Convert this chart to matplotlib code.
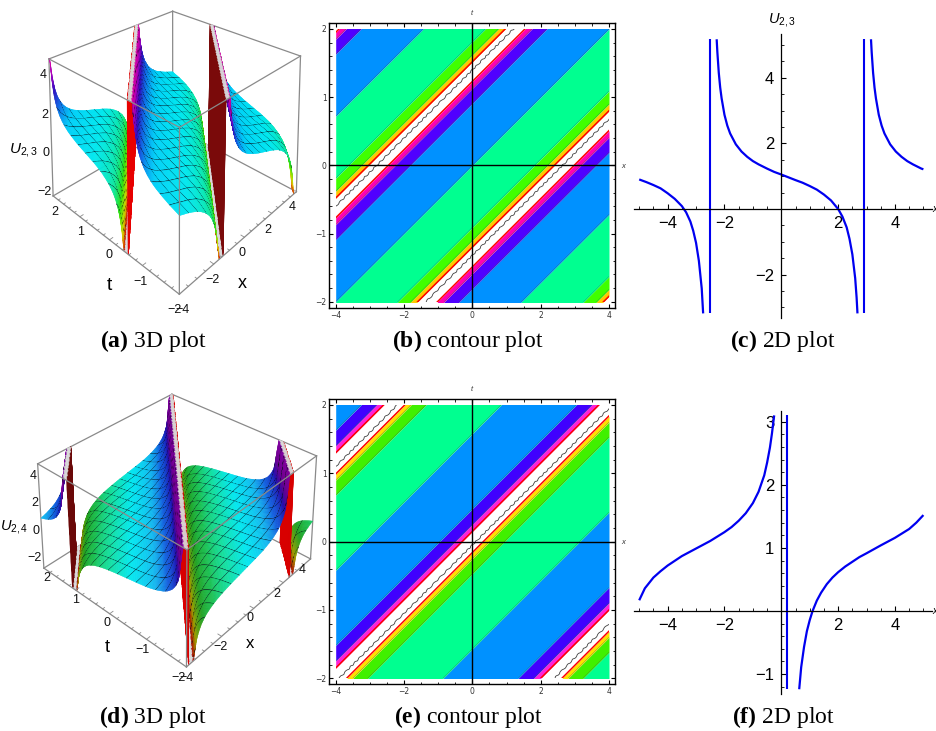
import numpy as np
import matplotlib
matplotlib.use("Agg")
import matplotlib.pyplot as plt
from matplotlib.colors import LinearSegmentedColormap
from matplotlib.patches import Rectangle

W, H = 936, 731
SANS = 'Liberation Sans'

plt.rcParams['mathtext.fontset'] = 'custom'
plt.rcParams['mathtext.rm'] = 'Liberation Sans'
plt.rcParams['mathtext.it'] = 'Liberation Sans:italic'
plt.rcParams['mathtext.bf'] = 'Liberation Serif:bold'

# 2D curves (c) and (f), one list per branch
c_x1 = [-5, -4.75, -4.5, -4.25, -4, -3.75, -3.5, -3.35, -3.2, -3.1, -3, -2.9, -2.8, -2.75]
c_y1 = [0.9, 0.82, 0.73, 0.63, 0.48, 0.31, 0.09, -0.1, -0.38, -0.66, -1.03, -1.58, -2.42, -3.18]
c_x2 = [-2.274, -2.25, -2.2, -2.15, -2.1, -2, -1.9, -1.8, -1.6, -1.4, -1.2, -1, -0.8, -0.5, -0.25, 0,
        0.25, 0.5, 0.75, 1, 1.25, 1.5, 1.75, 2, 2.15, 2.3, 2.4, 2.5, 2.6, 2.65, 2.68]
c_y2 = [5.17, 4.78, 4.15, 3.7, 3.37, 2.87, 2.54, 2.3, 1.97, 1.75, 1.59, 1.46, 1.36, 1.23, 1.13, 1.05,
        0.965, 0.88, 0.8, 0.7, 0.59, 0.44, 0.26, 0, -0.23, -0.56, -0.91, -1.38, -2.11, -2.7, -3.18]
c_x3 = [3.156, 3.18, 3.23, 3.28, 3.33, 3.43, 3.53, 3.63, 3.83, 4.03, 4.23, 4.43, 4.63, 4.93, 5]
c_y3 = [5.17, 4.78, 4.15, 3.7, 3.37, 2.87, 2.54, 2.3, 1.97, 1.75, 1.59, 1.46, 1.36, 1.23, 1.21]
c_poles = [-2.51, 2.92]

f_x1 = [-5, -4.8, -4.5, -4.25, -4, -3.5, -3, -2.5, -2, -1.75, -1.5, -1.25, -1, -0.8, -0.6, -0.5, -0.4, -0.33, -0.27, -0.25]
f_y1 = [0.17, 0.36, 0.53, 0.63, 0.72, 0.87, 0.99, 1.11, 1.25, 1.33, 1.43, 1.55, 1.71, 1.89, 2.15, 2.35, 2.59, 2.81, 3.03, 3.1]
f_x2 = [0.63, 0.7, 0.8, 0.9, 1, 1.1, 1.25, 1.4, 1.6, 1.8, 2, 2.25, 2.5, 2.75, 3, 3.5, 4, 4.25, 4.5, 4.75, 5]
f_y2 = [-1.24, -0.89, -0.57, -0.32, -0.145, 0, 0.165, 0.29, 0.425, 0.53, 0.615, 0.705, 0.78, 0.855, 0.915,
        1.04, 1.16, 1.23, 1.3, 1.4, 1.52]
f_poles = [0.2]

# one period of each wave for the 3D surfaces, same readings carried past the cut
wave_a_xi = [-2.51, -2.45, -2.36] + c_x2 + [2.8, 2.88, 2.92]
wave_a_u = [12, 8, 6.2] + c_y2 + [-5, -8, -12]
wave_a_period = 5.43
wave_a_shift = 0.29

wave_d_xi = [0.2, 0.35, 0.5] + f_x2 + [5.3, 5.5, 5.7, 5.8, 5.9, 6.03, 6.2, 6.4, 6.5]
wave_d_u = [-12, -4.5, -2.2] + f_y2 + [1.71, 1.89, 2.15, 2.35, 2.59, 3.03, 5, 9, 12]
wave_d_period = 6.3
wave_d_shift = 0.1

# contour bands: intercept c of t = x/2 + c, one period from bottom to top
b_edges = [0, 0.91, 1.13, 1.23, 1.52, 1.62, 1.81, 2.72]
b_colors = ['#0091FF', '#5000FF', '#FF00B4', '#FFFFFF', '#FFC800', '#40FF00', '#00FF90']
b_red = [1.23, 1.52]
b_level = 1.4
b_period = 2.72

e_edges = [0.48, 1.58, 2.68, 2.9, 2.99, 3.3, 3.405, 3.63]
e_colors = ['#0091FF', '#00FF90', '#40F000', '#FFE000', '#FFFFFF', '#FF20D8', '#4000FF']
e_red = [2.99, 3.3]
e_level = 3.1
e_period = 3.15

x_ticks = [-4, -2, 0, 2, 4]
t_ticks = [-2, -1, 0, 1, 2]

z_labels = ['4', '2', '0', '\u22122']
t_labels = ['2', '1', '0', '\u22121', '\u22122']
x_labels = ['\u22124', '\u22122', '0', '2', '4']

a_cmap = LinearSegmentedColormap.from_list('a', [
    (0.0, '#D00000'), (0.1, '#E0E000'), (0.22, '#30E010'), (0.34, '#10E8A0'),
    (0.46, '#00E8F0'), (0.56, '#00D0F8'), (0.66, '#1070E8'), (0.78, '#3010C0'),
    (0.9, '#A000C0'), (1.0, '#E000A0')])
d_cmap = LinearSegmentedColormap.from_list('d', [
    (0.0, '#B00000'), (0.14, '#A0A000'), (0.28, '#20A020'), (0.36, '#18C050'),
    (0.41, '#10E0A0'), (0.45, '#00E8F0'), (0.5, '#10B8F0'), (0.56, '#1060E0'), (0.7, '#2010B0'),
    (0.85, '#700090'), (1.0, '#8000A0')])

fig = plt.figure(figsize=(W / 100, H / 100), dpi=100)


def px_axes(left, top, right, bottom, **kw):
    return fig.add_axes([left / W, 1 - bottom / H, (right - left) / W, (bottom - top) / H], **kw)


def px_text(x, y, s, **kw):
    kw.setdefault('ha', 'center')
    kw.setdefault('va', 'center')
    fig.text(x / W, 1 - y / H, s, **kw)


def mesh_axis(lo, hi, step, lines, thick):
    vals = list(np.arange(lo, hi + step / 2, step))
    for m in lines:
        vals = [v for v in vals if abs(v - m) > thick]
        vals += [m - thick / 2, m + thick / 2]
    return np.array(sorted(vals))


def surface_panel(rect, wave_xi, wave_u, period, shift, zlim, cmap, walls, view, aspect):
    ax = px_axes(rect[0], rect[1], rect[2], rect[3], projection='3d', computed_zorder=False)
    # the box is stretched upward in the picture, so keep the non-square axes
    ax.apply_aspect = lambda position=None: None
    ax.patch.set_alpha(0)
    ax.set_axis_off()
    ax.set_xlim(-4, 4, view_margin=0)
    ax.set_ylim(-2, 2, view_margin=0)
    ax.set_zlim(zlim[0], zlim[1], view_margin=0)
    ax.set_box_aspect(aspect)
    ax.view_init(elev=view[0], azim=view[1], roll=0)
    ax.set_proj_type('persp', focal_length=view[2])

    x_lines = np.arange(-3.5, 3.6, 0.5)
    t_lines = np.arange(-1.75, 1.8, 0.25)
    xs = mesh_axis(-4, 4, 0.04, x_lines, 0.018)
    ts = mesh_axis(-2, 2, 0.025, t_lines, 0.0095)
    X, T = np.meshgrid(xs, ts)
    xi = X - 2 * T + shift
    turn = np.floor((xi - wave_xi[0]) / period)
    Z = np.interp(xi - turn * period, wave_xi, wave_u)
    Zc = np.clip(Z, zlim[0], zlim[1])

    mean_z = (Zc[:-1, :-1] + Zc[1:, :-1] + Zc[:-1, 1:] + Zc[1:, 1:]) / 4
    colors = cmap((mean_z - zlim[0]) / (zlim[1] - zlim[0]))
    xc = (xs[:-1] + xs[1:]) / 2
    tc = (ts[:-1] + ts[1:]) / 2
    on_x = np.min(np.abs(xc[:, None] - x_lines), axis=1) < 0.0095
    on_t = np.min(np.abs(tc[:, None] - t_lines), axis=1) < 0.005
    colors[on_t, :] = (0.03, 0.05, 0.1, 1)
    colors[:, on_x] = (0.03, 0.05, 0.1, 1)

    cells = np.stack([Zc[:-1, :-1], Zc[1:, :-1], Zc[:-1, 1:], Zc[1:, 1:]])
    colors[np.all(cells >= zlim[1], axis=0) | np.all(cells <= zlim[0], axis=0)] = (0.85, 0.85, 0.85, 1)
    turns = np.stack([turn[:-1, :-1], turn[1:, :-1], turn[:-1, 1:], turn[1:, 1:]])
    crossing = turns.max(axis=0) != turns.min(axis=0)
    for key, col in walls.items():
        colors[crossing & (turns.max(axis=0) == key)] = matplotlib.colors.to_rgba(col)

    # box edges behind the surface
    z0, z1 = zlim
    grey = '#8A8A8A'
    back = [([-4, 4], [2, 2], [z0, z0]), ([4, 4], [-2, 2], [z0, z0]), ([4, 4], [2, 2], [z0, z1]),
            ([-4, 4], [2, 2], [z1, z1]), ([4, 4], [-2, 2], [z1, z1]), ([-4, -4], [2, 2], [z0, z1]),
            ([4, 4], [-2, -2], [z0, z1])]
    for seg in back:
        ax.plot(*seg, color=grey, lw=0.9, zorder=1, clip_on=False)

    surf = ax.plot_surface(X, T, Zc, facecolors=colors, rstride=1, cstride=1, shade=False,
                           linewidth=0.22, antialiased=True, zorder=2)
    surf.set_clip_on(False)

    front = [([-4, 4], [-2, -2], [z1, z1]), ([-4, -4], [-2, 2], [z1, z1]),
             ([-4, 4], [-2, -2], [z0, z0]), ([-4, -4], [-2, 2], [z0, z0]),
             ([-4, -4], [-2, -2], [z0, z1])]
    for seg in front:
        ax.plot(*seg, color=grey, lw=0.9, zorder=3, clip_on=False)

    for v in np.arange(-3.5, 4, 0.5):
        d = 0.09 if v % 2 == 0 else 0.05
        ax.plot([v, v], [-2, -2 + d], [z0, z0], color=grey, lw=0.6, zorder=3, clip_on=False)
    for v in np.arange(-1.8, 2, 0.2):
        d = 0.18 if abs(v - round(v)) < 0.01 else 0.1
        ax.plot([-4, -4 + d], [v, v], [z0, z0], color=grey, lw=0.6, zorder=3, clip_on=False)
    return ax


def contour_panel(top, bottom, t2_y, tm2_y, edges, colors, red, level, period):
    x4, x_4 = 609.0, 335.7
    xs_px = (x4 - x_4) / 8
    ts_px = (tm2_y - t2_y) / 4
    left, right = 329.3, 615.0
    ax = px_axes(left, top, right, bottom)
    ax.set_xlim(-4 - (x_4 - left) / xs_px, 4 + (right - x4) / xs_px)
    ax.set_ylim(-2 - (bottom - tm2_y) / ts_px, 2 + (t2_y - top) / ts_px)
    box = Rectangle((-4, -2), 8, 4, transform=ax.transData)
    xl = np.array([-4.0, 4.0])
    for k in (-2, -1, 0, 1):
        off = k * period
        for lo, hi, col in zip(edges[:-1], edges[1:], colors):
            p = ax.fill_between(xl, xl / 2 + lo + off, xl / 2 + hi + off, color=col, lw=0, zorder=1)
            p.set_clip_path(box)
            if col != '#FFFFFF':
                ln, = ax.plot(xl, xl / 2 + lo + off, color='#207050', lw=0.35, alpha=0.6, zorder=2)
                ln.set_clip_path(box)
        for r in red:
            ln, = ax.plot(xl, xl / 2 + r + off, color='#FF0000', lw=1.1, zorder=3)
            ln.set_clip_path(box)
        ln, = ax.plot(xl, xl / 2 + level + off, color='#404040', lw=0.6, zorder=3)
        ln.set_sketch_params(scale=0.6, length=8, randomness=2)
        ln.set_clip_path(box)
    ax.axhline(0, color='black', lw=1.0, zorder=4)
    ax.axvline(0, color='black', lw=1.0, zorder=4)
    ax.set_xticks(x_ticks)
    ax.set_yticks(t_ticks)
    ax.set_xticks(np.arange(-4, 4.1, 0.5), minor=True)
    ax.set_yticks(np.arange(-2, 2.1, 0.2), minor=True)
    ax.set_xticklabels([str(v).replace('-', '\u2212') for v in x_ticks])
    ax.set_yticklabels([str(v).replace('-', '\u2212') for v in t_ticks])
    ax.tick_params(which='major', direction='in', length=3.2, width=0.8, top=True, right=True,
                   labelsize=5.5, pad=2, labelcolor='#333333')
    ax.tick_params(which='minor', direction='in', length=1.8, width=0.6, top=True, right=True)
    for s in ax.spines.values():
        s.set_linewidth(1.0)
    px_text(472, top - 9.5, 't', fontsize=5.5, style='italic', family=SANS, color='#333333')
    px_text(623.5, (top + bottom) / 2 + 0.5, 'x', fontsize=5.5, style='italic', family=SANS, color='#333333')
    return ax


def curve_panel(top, bottom, y0_px, y_scale, branches, poles, yticks, ylabels, yminor, ytop, ybot, label):
    left, right = 634.0, 932.0
    x0_px, x_scale = 781.3, 28.42
    ax = px_axes(left, top, right, bottom)
    ax.patch.set_alpha(0)
    ax.set_xlim((left - x0_px) / x_scale, (right - x0_px) / x_scale)
    ax.set_ylim((y0_px - bottom) / y_scale, (y0_px - top) / y_scale)
    for bx, by in branches:
        ax.plot(bx, by, color='#0000F0', lw=1.6, solid_capstyle='butt')
    for p in poles:
        ax.plot([p, p], [ybot, ytop], color='#0000F0', lw=1.5, solid_capstyle='butt')
    for name in ('top', 'right'):
        ax.spines[name].set_visible(False)
    ax.spines['left'].set_position(('data', 0))
    ax.spines['bottom'].set_position(('data', 0))
    ax.spines['left'].set_linewidth(0.9)
    ax.spines['bottom'].set_linewidth(0.9)
    ax.set_xticks([-4, -2, 2, 4])
    ax.set_xticklabels(['\u22124', '\u22122', '2', '4'], family=SANS)
    ax.set_xticks(np.arange(-5, 5.1, 0.5), minor=True)
    ax.set_yticks(yticks)
    ax.set_yticklabels(ylabels, family=SANS)
    ax.set_yticks(yminor, minor=True)
    ax.tick_params(which='major', direction='in', length=3.5, width=0.8, labelsize=12, pad=5)
    ax.tick_params(which='minor', direction='in', length=2, width=0.6)
    if label:
        px_text(782, top - 14, label, fontsize=10.5, color='black')
    px_text(934.5, y0_px, 'x', fontsize=7, family=SANS, style='italic')
    return ax


# (a) and (d) surfaces
surface_panel((47, -115, 297, 382), wave_a_xi, wave_a_u, wave_a_period, wave_a_shift, (-2.25, 4.4), a_cmap,
              {0: '#E80000', 1: '#7A0A0A'}, (16.2, -136.5, 0.439), (1, 1, 0.408))
surface_panel((36, 326, 313, 710), wave_d_xi, wave_d_u, wave_d_period, wave_d_shift, (-2.3, 5.2), d_cmap,
              {-1: '#6A0808', 0: '#D80000', 1: '#D80000'}, (25.8, -138, 0.536), (1, 1, 0.43))

# (b) and (e) contours
contour_panel(23.3, 308.3, 29.0, 301.7, b_edges, b_colors, b_red, b_level, b_period)
contour_panel(399.3, 684.0, 405.0, 678.3, e_edges, e_colors, e_red, e_level, e_period)

# (c) and (f) curves
curve_panel(34, 318, 209.0, 32.83, [(c_x1, c_y1), (c_x2, c_y2), (c_x3, c_y3)], c_poles,
            [-2, 2, 4], ['\u22122', '2', '4'], np.arange(-3, 5.1, 0.5), 5.17, -3.18, r'$U_{2,3}$')
curve_panel(410.7, 694, 611.0, 63.1, [(f_x1, f_y1), (f_x2, f_y2)], f_poles,
            [-1, 1, 2, 3], ['\u22121', '1', '2', '3'], np.arange(-1.2, 3.1, 0.2), 3.1, -1.24, '')

# labels around the 3D boxes
a_z_pos = [(43.5, 75), (45, 115), (46, 153), (45, 192)]
a_t_pos = [(55, 212), (81, 232), (109, 255), (140, 282), (175, 310)]
a_x_pos = [(182, 310), (213, 280), (242, 253), (268, 230), (292, 207)]
d_z_pos = [(33, 476), (35, 503), (36, 531), (35, 558)]
d_t_pos = [(47, 578), (76, 600), (107, 623), (142, 650), (179, 678)]
d_x_pos = [(187, 678), (220, 647), (250, 618), (277, 594), (302, 570)]
for pos, labs in ((a_z_pos, z_labels), (a_t_pos, t_labels), (a_x_pos, x_labels),
                  (d_z_pos, z_labels), (d_t_pos, t_labels), (d_x_pos, x_labels)):
    for (px, py), lab in zip(pos, labs):
        px_text(px, py, lab, fontsize=9, family=SANS, color='#111111')
px_text(24, 150, r'$U_{2,3}$', fontsize=11)
px_text(14.5, 527, r'$U_{2,4}$', fontsize=10.5)
px_text(109, 285, 't', fontsize=14, family=SANS)
px_text(242, 283, 'x', fontsize=13, family=SANS)
px_text(107, 648, 't', fontsize=13, family=SANS)
px_text(250, 644, 'x', fontsize=12, family=SANS)

# captions
captions = [(153, 341, 'a', '3D plot'), (468, 341, 'b', 'contour plot'), (783, 341, 'c', '2D plot'),
            (153, 717, 'd', '3D plot'), (468, 717, 'e', 'contour plot'), (783, 717, 'f', '2D plot')]
for cx, cy, key, text in captions:
    px_text(cx, cy, rf'$\mathbf{{({key})}}$ {text}', fontsize=17, family='Liberation Serif')

fig.savefig('out.png', dpi=100)
